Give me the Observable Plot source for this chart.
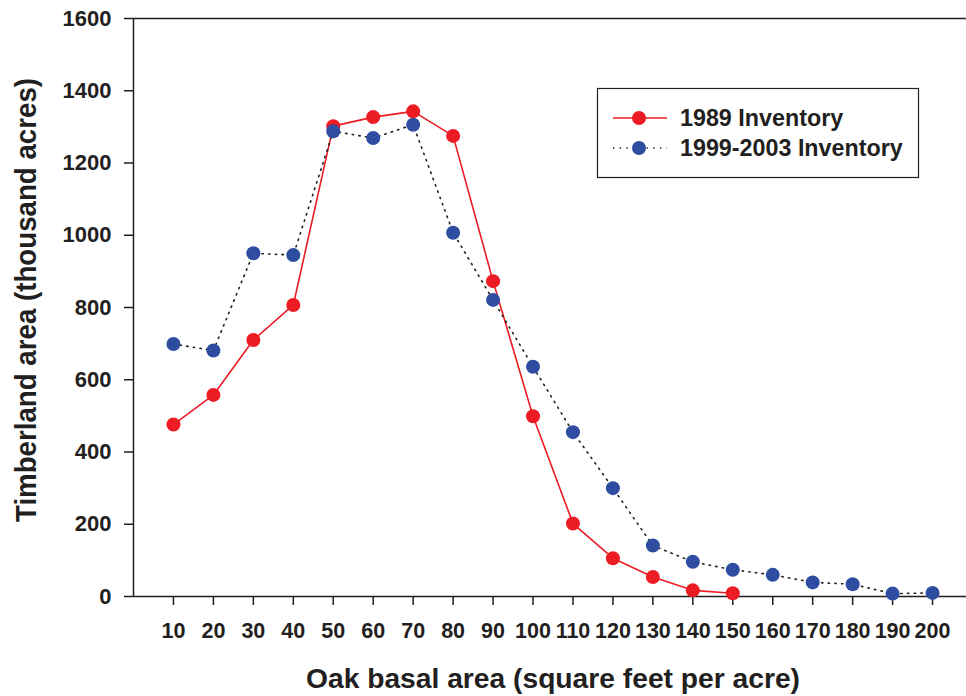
<!DOCTYPE html>
<html>
<head>
<meta charset="utf-8">
<script src="https://cdn.jsdelivr.net/npm/d3@7"></script>
<script src="https://cdn.jsdelivr.net/npm/@observablehq/plot@0.6"></script>
<style>
  html, body { margin: 0; padding: 0; background: white; }
</style>
</head>
<body>
<div id="chart"></div>
<script>
const basalArea1989 = [10, 20, 30, 40, 50, 60, 70, 80, 90, 100, 110, 120, 130, 140, 150];
const inventory1989 = [476, 558, 710, 807, 1302, 1327, 1343, 1275, 873, 499, 202, 106, 54, 17, 9];
const basalArea1999 = [10, 20, 30, 40, 50, 60, 70, 80, 90, 100, 110, 120, 130, 140, 150, 160, 170, 180, 190, 200];
const inventory1999 = [699, 681, 950, 945, 1288, 1269, 1306, 1007, 821, 636, 455, 300, 141, 96, 74, 60, 39, 34, 8, 10];
const xTicks = [10, 20, 30, 40, 50, 60, 70, 80, 90, 100, 110, 120, 130, 140, 150, 160, 170, 180, 190, 200];
const yTicks = [0, 200, 400, 600, 800, 1000, 1200, 1400, 1600];
const seriesNames = ["1989 Inventory", "1999-2003 Inventory"];
const xTitle = "Oak basal area (square feet per acre)";
const yTitle = "Timberland area (thousand acres)";

const data1989 = basalArea1989.map((x, i) => ({x, y: inventory1989[i]}));
const data1999 = basalArea1999.map((x, i) => ({x, y: inventory1999[i]}));

const RED = "#ec1c24";
const BLUE = "#2e4da1";
const INK = "#231f20";

const chart = Plot.plot({
  width: 966,
  height: 696,
  marginLeft: 133,
  marginRight: 0,
  marginTop: 18,
  marginBottom: 100,
  x: {domain: [0, 208.5]},
  y: {domain: [0, 1600]},
  style: {fontFamily: "'Liberation Sans', Arial, sans-serif", color: INK, background: "white"},
  marks: [
    Plot.ruleY([1600], {stroke: INK, strokeWidth: 1.5}),
    Plot.axisY({ticks: yTicks, tickFormat: d => String(d), tickSize: 9, tickPadding: 13, fontSize: 22, fontWeight: "bold", label: null, stroke: INK, strokeWidth: 1.5}),
    Plot.axisX({ticks: xTicks, tickFormat: d => String(d), tickSize: 9, tickPadding: 17, fontSize: 21.5, fontWeight: "bold", fontFamily: "'Liberation Sans Narrow', 'Arial Narrow', 'Liberation Sans', sans-serif", label: null, stroke: INK, strokeWidth: 1.5}),
    Plot.ruleX([0], {stroke: INK, strokeWidth: 1.5}),
    Plot.ruleY([0], {stroke: INK, strokeWidth: 1.5}),
    Plot.line(data1989, {x: "x", y: "y", stroke: RED, strokeWidth: 1.6}),
    Plot.dot(data1989, {x: "x", y: "y", r: 7, fill: RED}),
    Plot.line(data1999, {x: "x", y: "y", stroke: INK, strokeWidth: 1.6, strokeDasharray: "1.4,5.3"}),
    Plot.dot(data1999, {x: "x", y: "y", r: 7, fill: BLUE})
  ]
});
document.getElementById("chart").appendChild(chart);

const svg = d3.select(chart);
// axis titles
svg.append("text")
  .attr("x", 553).attr("y", 688)
  .attr("text-anchor", "middle")
  .attr("font-size", 28).attr("font-weight", "bold").attr("fill", INK)
  .attr("textLength", 494).attr("lengthAdjust", "spacingAndGlyphs")
  .text(xTitle);
svg.append("text")
  .attr("transform", "translate(36,300) rotate(-90)")
  .attr("text-anchor", "middle")
  .attr("font-size", 29).attr("font-weight", "bold").attr("fill", INK)
  .attr("textLength", 444).attr("lengthAdjust", "spacingAndGlyphs")
  .text(yTitle);

// legend
const lg = svg.append("g").attr("text-anchor", "start");
lg.append("rect").attr("x", 597.5).attr("y", 88.5).attr("width", 321).attr("height", 89)
  .attr("fill", "white").attr("stroke", INK).attr("stroke-width", 1.2);
const entries = [
  {name: seriesNames[0], color: RED, lineColor: RED, dash: null, y: 118},
  {name: seriesNames[1], color: BLUE, lineColor: INK, dash: "1.4,5.3", y: 148}
];
entries.forEach(e => {
  lg.append("line").attr("x1", 613).attr("x2", 667).attr("y1", e.y).attr("y2", e.y)
    .attr("stroke", e.lineColor).attr("stroke-width", 1.6).attr("stroke-dasharray", e.dash);
  lg.append("circle").attr("cx", 639).attr("cy", e.y).attr("r", 7).attr("fill", e.color);
  lg.append("text").attr("x", 680).attr("y", e.y).attr("dy", "0.36em")
    .attr("text-anchor", "start")
    .attr("font-size", 23.3).attr("font-weight", "bold").attr("fill", INK).text(e.name);
});
</script>
</body>
</html>
